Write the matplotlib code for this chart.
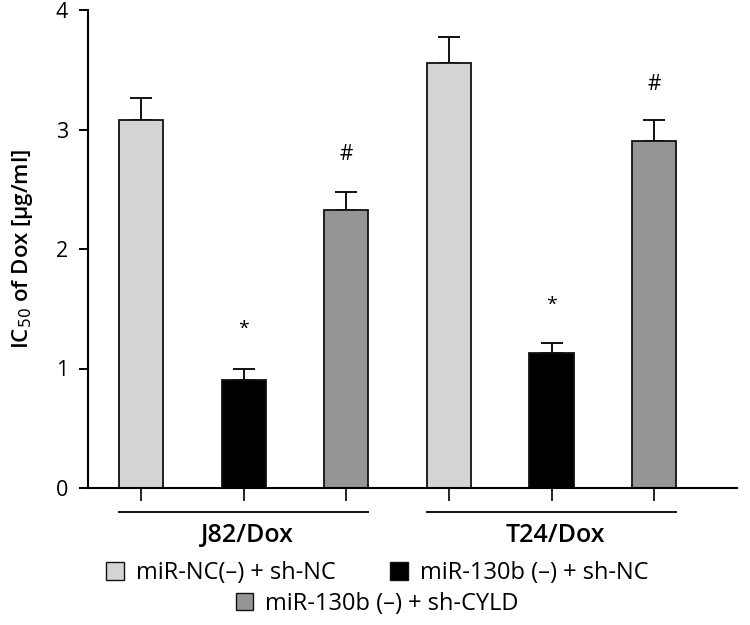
import numpy as np
import matplotlib
matplotlib.use("Agg")
import matplotlib.pyplot as plt
from matplotlib.patches import Patch
from matplotlib.transforms import blended_transform_factory

plt.rcParams["font.family"] = ["Open Sans", "DejaVu Sans"]

groups = ["J82/Dox", "T24/Dox"]
series = ["miR-NC(–) + sh-NC", "miR-130b (–) + sh-NC", "miR-130b (–) + sh-CYLD"]
colors = ["#d4d4d4", "#000000", "#959595"]
# IC50 values [ug/ml], rows = series, cols = groups
values = np.array([[3.08, 3.56],
                   [0.90, 1.13],
                   [2.33, 2.90]])
errors = np.array([[0.18, 0.21],
                   [0.10, 0.08],
                   [0.15, 0.18]])
marks = ["", "*", "#"]
mark_y = np.array([[0, 0], [1.33, 1.53], [2.79, 3.38]])

fig = plt.figure(figsize=(7.5, 6.25), dpi=100)
ax = fig.add_axes([0.1173, 0.2192, 0.8657, 0.7648])

width = 0.43
for g in range(len(groups)):
    for s in range(len(series)):
        x = g * 3 + s
        ax.bar(x, values[s, g], width, color=colors[s], edgecolor="#111111",
               linewidth=1.3, zorder=2)
        ax.errorbar(x, values[s, g], yerr=[[0], [errors[s, g]]], fmt="none",
                    ecolor="#111111", elinewidth=1.4, capsize=8, capthick=1.4,
                    zorder=1)
        if marks[s]:
            ax.text(x, mark_y[s, g], marks[s], ha="center", va="center",
                    fontsize=15 if marks[s] == "#" else 14)

ax.set_ylim(0, 4)
ax.set_xlim(-0.517, 5.81)
ax.set_yticks([0, 1, 2, 3, 4])
ax.set_xticks(np.arange(6))
ax.set_xticklabels([])
ax.tick_params(axis="y", length=6.5, width=1.4, labelsize=15.5, pad=8)
ax.tick_params(axis="x", length=9, width=1.2)
for sp in ["top", "right"]:
    ax.spines[sp].set_visible(False)
for sp in ["left", "bottom"]:
    ax.spines[sp].set_linewidth(1.5)
ax.set_ylabel("IC$_{50}$ of Dox [µg/ml]", fontsize=16, fontweight="semibold", labelpad=15)

tr = blended_transform_factory(ax.transData, ax.transAxes)
for g, name in enumerate(groups):
    c = g * 3 + 1
    ax.plot([c - 1.21, c + 1.21], [-0.05, -0.05], color="#111111", lw=1.4,
            transform=tr, clip_on=False)
    ax.text(c + 0.04, -0.10, name, transform=tr, ha="center", va="center",
            fontsize=18, fontweight="semibold")

handles = [Patch(facecolor=colors[i], edgecolor="#111111", linewidth=1.0) for i in range(3)]
fig.legend(handles[:2], series[:2], loc="center", bbox_to_anchor=(0.503, 0.083),
           ncol=2, frameon=False, fontsize=17, handlelength=0.75, handleheight=0.75,
           handletextpad=0.5, columnspacing=2.3)
fig.legend(handles[2:], series[2:], loc="center", bbox_to_anchor=(0.503, 0.034),
           frameon=False, fontsize=17, handlelength=0.75, handleheight=0.75,
           handletextpad=0.5)

fig.savefig("out.png", dpi=100)
